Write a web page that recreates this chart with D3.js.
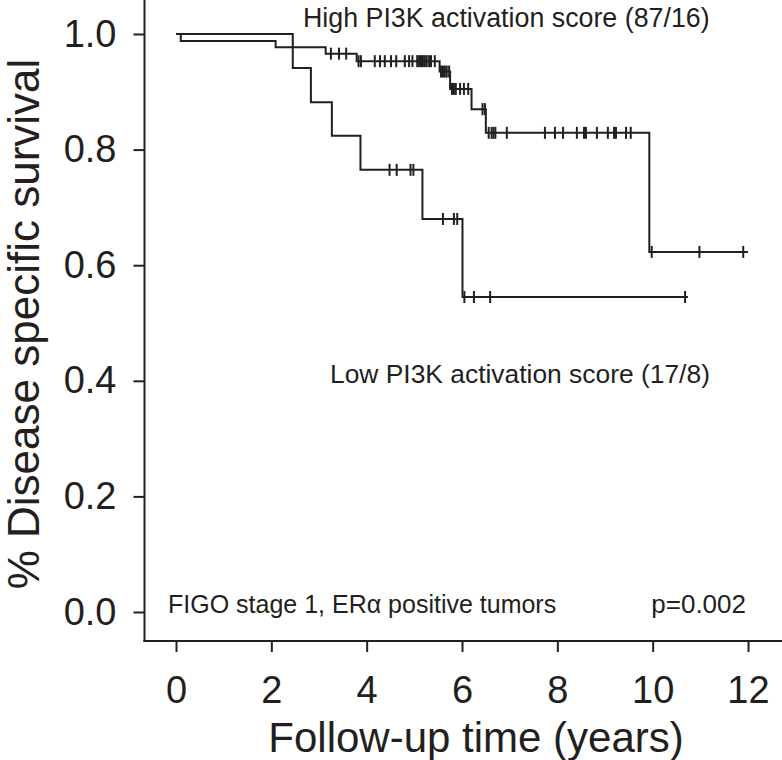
<!DOCTYPE html>
<html><head><meta charset="utf-8">
<script src="https://cdn.jsdelivr.net/npm/d3@7"></script>
<style>
html,body{margin:0;padding:0;background:#fff;}
svg{display:block;font-family:"Liberation Sans",Arial,Helvetica,sans-serif;}
</style></head>
<body><svg id="c" width="782" height="760"></svg>
<script>
// ---- data ----
const xTicks = [0, 2, 4, 6, 8, 10, 12];
const yTicks = [0.0, 0.2, 0.4, 0.6, 0.8, 1.0];

// High PI3K activation score (87/16)
const highEventTimes = [0.10, 2.09, 3.14, 3.79, 5.53, 5.75, 6.20, 6.50, 9.93];
const highSurvival   = [0.988, 0.977, 0.966, 0.953, 0.935, 0.905, 0.870, 0.829, 0.623];
const highCensorTimes = [3.25, 3.42, 3.57,
  3.83, 3.88, 4.17, 4.28, 4.38, 4.51, 4.62, 4.80, 4.89, 4.96, 5.06, 5.10, 5.14, 5.18, 5.22, 5.26, 5.31, 5.35, 5.43,
  5.56, 5.60, 5.64, 5.68, 5.73,
  5.79, 5.83, 5.87, 5.96, 6.04, 6.13,
  6.43, 6.48,
  6.56, 6.62, 6.66, 6.70, 6.94, 7.74, 7.95, 8.12, 8.41, 8.56, 8.60, 8.83, 9.06, 9.19, 9.23, 9.44, 9.54,
  9.98, 10.98, 11.90];
const highEndTime = 12.0;

// Low PI3K activation score (17/8)
const lowEventTimes = [2.45, 2.83, 3.27, 3.87, 5.17, 6.01];
const lowSurvival   = [0.941, 0.882, 0.824, 0.765, 0.680, 0.545];
const lowCensorTimes = [4.48, 4.63, 4.92, 4.98, 5.60, 5.83, 5.90, 6.05, 6.25, 6.59, 10.68];
const lowEndTime = 10.74;

const labels = {
  high: "High PI3K activation score (87/16)",
  low: "Low PI3K activation score (17/8)",
  note: "FIGO stage 1, ER\u03b1 positive tumors",
  p: "p=0.002",
  xTitle: "Follow-up time (years)",
  yTitle: "% Disease specific survival"
};

// ---- chart ----
const svg = d3.select("#c");
const x = d3.scaleLinear().domain([0, 12]).range([176, 748]);
const y = d3.scaleLinear().domain([0, 1]).range([612, 34]);
const ink = "#231f20";
const axisX0 = 144.5, axisY0 = 641;

// axis lines
svg.append("line").attr("x1", axisX0).attr("x2", axisX0).attr("y1", 0).attr("y2", axisY0 + 1)
  .attr("stroke", ink).attr("stroke-width", 2);
svg.append("line").attr("x1", axisX0 - 1).attr("x2", 782).attr("y1", axisY0).attr("y2", axisY0)
  .attr("stroke", ink).attr("stroke-width", 2);

// y axis
const yAxis = svg.append("g").attr("transform", `translate(${axisX0},0)`)
  .call(d3.axisLeft(y).tickValues(yTicks).tickFormat(d3.format(".1f")).tickSize(11).tickPadding(17));
yAxis.select(".domain").remove();
yAxis.selectAll(".tick line").attr("stroke", ink).attr("stroke-width", 2);
yAxis.selectAll(".tick text").attr("fill", ink).attr("font-size", 38)
  .attr("font-family", "'Liberation Sans',Arial,sans-serif");

// x axis
const xAxis = svg.append("g").attr("transform", `translate(0,${axisY0})`)
  .call(d3.axisBottom(x).tickValues(xTicks).tickFormat(d3.format("d")).tickSize(11).tickPadding(24));
xAxis.select(".domain").remove();
xAxis.selectAll(".tick line").attr("stroke", ink).attr("stroke-width", 2);
xAxis.selectAll(".tick text").attr("fill", ink).attr("font-size", 38)
  .attr("font-family", "'Liberation Sans',Arial,sans-serif");

// axis titles
svg.append("text").attr("x", 476).attr("y", 752).attr("text-anchor", "middle")
  .attr("font-size", 42).attr("fill", ink).text(labels.xTitle);
svg.append("text").attr("transform", "translate(39,324) rotate(-90)").attr("text-anchor", "middle")
  .attr("font-size", 44).attr("fill", ink).text(labels.yTitle);

// curves
function kmPoints(times, surv, end) {
  const pts = [{t: 0, s: 1}];
  times.forEach((t, i) => pts.push({t: t, s: surv[i]}));
  pts.push({t: end, s: surv[surv.length - 1]});
  return pts;
}
function survAt(times, surv, t) {
  let s = 1;
  times.forEach((et, i) => { if (et <= t) s = surv[i]; });
  return s;
}
const line = d3.line().x(d => x(d.t)).y(d => y(d.s)).curve(d3.curveStepAfter);

const groups = [
  {times: highEventTimes, surv: highSurvival, cens: highCensorTimes, end: highEndTime},
  {times: lowEventTimes, surv: lowSurvival, cens: lowCensorTimes, end: lowEndTime}
];
groups.forEach(g => {
  svg.append("path").attr("d", line(kmPoints(g.times, g.surv, g.end)))
    .attr("fill", "none").attr("stroke", ink).attr("stroke-width", 2);
  svg.append("g").selectAll("line").data(g.cens).join("line")
    .attr("x1", d => x(d)).attr("x2", d => x(d))
    .attr("y1", d => y(survAt(g.times, g.surv, d)) - 6)
    .attr("y2", d => y(survAt(g.times, g.surv, d)) + 6)
    .attr("stroke", ink).attr("stroke-width", 2);
});

// annotations
svg.append("text").attr("x", 303).attr("y", 27).attr("font-size", 26.8).attr("fill", ink).text(labels.high);
svg.append("text").attr("x", 330).attr("y", 383).attr("font-size", 26.4).attr("fill", ink).text(labels.low);
svg.append("text").attr("x", 168).attr("y", 613).attr("font-size", 25).attr("fill", ink).text(labels.note);
svg.append("text").attr("x", 746).attr("y", 613).attr("text-anchor", "end").attr("font-size", 26).attr("fill", ink).text(labels.p);
</script></body></html>
